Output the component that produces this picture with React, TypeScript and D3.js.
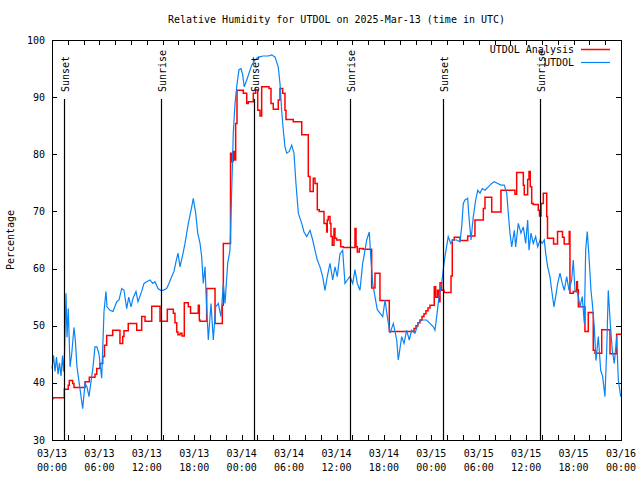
import React from "react";
import * as d3 from "d3";

// hours since 2025-03-13 00:00 UTC, relative humidity (%)
const utdolObs: [number, number][] = [
  [0, 42.5], [0.19, 44.8], [0.38, 42], [0.57, 44.5], [0.76, 41.5], [0.95, 43.5], [1.14, 41.2], [1.33, 44.8],
  [1.46, 42], [1.58, 45], [1.77, 55.7], [1.9, 48], [2.06, 53], [2.28, 42.8], [2.49, 45], [2.78, 49.7],
  [2.95, 47.5], [3.16, 42.8], [3.54, 39], [3.88, 35.5], [4.18, 39.9], [4.43, 39.3], [4.68, 37.6], [5.02, 41.1],
  [5.19, 42.8], [5.44, 46.3], [5.69, 46.3], [5.95, 45], [6.29, 40.8], [6.58, 52.5], [6.83, 56], [6.96, 53.3],
  [7.34, 52.7], [7.72, 52.5], [8.19, 54.2], [8.48, 54.5], [8.82, 56.5], [9.11, 56.2], [9.45, 53], [9.71, 55],
  [10.0, 53.3], [10.25, 54.8], [10.63, 56], [10.88, 54.2], [11.35, 56], [11.64, 57.4], [11.98, 57.7], [12.4, 58],
  [12.74, 57.4], [13.03, 57.7], [13.41, 56.5], [13.75, 56.2], [14.05, 56.2], [14.51, 56.5], [14.8, 57.4], [15.15, 58.6],
  [15.44, 59.5], [15.69, 61.2], [15.94, 62.7], [16.2, 60.3], [16.54, 62.4], [16.83, 64.4], [17.25, 67.9], [17.68, 70.8],
  [17.88, 72.3], [18.18, 69.7], [18.44, 66.2], [18.73, 64.4], [18.94, 62.1], [19.14, 57.4], [19.36, 60.3], [19.57, 53.3],
  [19.78, 47.5], [20.12, 53.9], [20.41, 47.5], [20.71, 53.3], [21.04, 53.9], [21.38, 51.6], [21.68, 57.4], [21.89, 53.9],
  [22.23, 60.9], [22.52, 63.2], [22.74, 73.7], [22.94, 83.7], [23.16, 88.9], [23.37, 91.8], [23.66, 94.8], [23.92, 95],
  [24.13, 93.9], [24.33, 91.8], [24.64, 93], [24.93, 94.2], [25.27, 95.6], [25.69, 96.5], [26.1, 97], [26.74, 97.2],
  [27.37, 97.2], [27.8, 97.4], [28.22, 97], [28.63, 95.3], [28.85, 92.4], [29.06, 87.7], [29.27, 84.2], [29.48, 81.3],
  [29.7, 80.2], [30.03, 80.5], [30.33, 81.6], [30.62, 80.2], [30.87, 74.9], [31.17, 69.7], [31.6, 67.9], [31.89, 66.4],
  [32.23, 65.6], [32.65, 66.7], [32.99, 65], [33.28, 63.2], [33.57, 61.5], [33.91, 60.3], [34.25, 58.6], [34.54, 56.2],
  [34.83, 58.6], [35.18, 60.9], [35.52, 58], [35.81, 60.3], [36.1, 58.6], [36.44, 62.6], [36.78, 63.2], [37.07, 57.4],
  [37.37, 58], [37.71, 58.6], [38.05, 57.4], [38.34, 59.8], [38.63, 57.4], [38.97, 56.2], [39.31, 60.9], [39.61, 63.2],
  [39.82, 65], [40.15, 66.4], [40.33, 62.1], [40.58, 57.4], [40.87, 55.1], [41.16, 52.8], [41.5, 52.2], [41.85, 51.6],
  [42.14, 54.5], [42.43, 51.6], [42.77, 48.7], [43.19, 50.4], [43.62, 47.5], [43.82, 44], [44.25, 48.1], [44.54, 46.9],
  [44.88, 49.2], [45.21, 47.5], [45.51, 49.2], [45.93, 48.7], [46.35, 50.4], [46.78, 51], [47.41, 51], [47.83, 50.4],
  [48.25, 49.8], [48.46, 49.2], [48.68, 51.6], [48.97, 55.1], [49.31, 57.4], [49.6, 60.9], [49.85, 63.2], [50.14, 65.6],
  [50.45, 64.4], [50.78, 65], [51.21, 65], [51.63, 64.7], [51.84, 67.3], [52.04, 71.4], [52.26, 72], [52.6, 72.3],
  [52.76, 69.1], [53.02, 65], [53.31, 69.1], [53.61, 72], [53.87, 73.7], [54.16, 73.2], [54.45, 74], [54.79, 73.7],
  [55.21, 74.3], [55.64, 74.9], [55.97, 75.2], [56.4, 74.9], [56.81, 74.6], [57.23, 74.6], [57.54, 73.2], [57.74, 69.7],
  [57.95, 66.2], [58.17, 63.8], [58.5, 66.7], [58.67, 63.8], [59.0, 67.9], [59.34, 66.2], [59.64, 67.3], [59.94, 64.4],
  [60.19, 68.5], [60.36, 63.2], [60.61, 66.2], [60.9, 64.4], [61.2, 65.6], [61.46, 63.8], [61.75, 65], [62.04, 64.4],
  [62.29, 65], [62.47, 62.7], [62.72, 60.3], [63.01, 58.6], [63.23, 56.2], [63.52, 53.3], [63.73, 55.1], [63.99, 57.4],
  [64.28, 59.2], [64.57, 57.4], [64.82, 56.2], [65.13, 58.6], [65.42, 56.2], [65.76, 58], [65.96, 61.5], [66.18, 56.2],
  [66.52, 55.7], [66.81, 53.3], [67.1, 55.1], [67.36, 50.4], [67.53, 63.2], [67.73, 66.5], [67.95, 62.1], [68.2, 56.2],
  [68.37, 53.9], [68.62, 49.8], [68.83, 43.9], [69.13, 48.1], [69.43, 42.2], [69.68, 41.1], [69.97, 37.6], [70.19, 45.7],
  [70.39, 56.2], [70.64, 50.4], [70.9, 45.7], [71.15, 43.4], [71.45, 48.1], [71.66, 40.5], [71.96, 37.6],
];

// analysis: step values (value holds from this hour until the next)
const utdolAnalysis: [number, number][] = [
  [0, 37.2], [0.13, 37.4], [1.56, 38.9], [2.06, 39.6], [2.19, 40.4], [2.62, 39.9], [2.78, 39.2], [4.18, 40.2],
  [4.72, 41.0], [5.44, 41.5], [5.66, 42.5], [6.07, 43.4], [6.42, 44.6], [6.64, 46.6], [6.92, 48.3], [7.68, 49.2],
  [8.6, 46.9], [8.95, 48.1], [9.11, 49.1], [9.65, 50.4], [10.72, 49.2], [11.35, 51.6], [11.77, 50.8], [12.62, 53.4],
  [13.67, 50.8], [14.59, 52.9], [15.35, 52.2], [15.56, 50.5], [15.78, 48.9], [15.94, 48.4], [16.2, 48.7], [16.45, 48.2],
  [16.74, 54.0], [17.25, 53.3], [17.53, 52.2], [18.51, 53.6], [18.64, 51.0], [18.73, 50.8], [19.57, 56.5], [20.63, 50.4],
  [21.55, 53.6], [21.68, 64.4], [22.59, 80.2], [22.74, 78.7], [22.9, 80.5], [23.09, 79.0], [23.24, 85.4], [23.41, 91.2],
  [24.21, 90.7], [24.64, 88.9], [24.84, 89.2], [25.47, 90.7], [25.78, 91.3], [26.03, 87.7], [26.32, 86.7], [26.53, 91.8],
  [27.46, 91.5], [27.71, 88.9], [28.0, 87.9], [28.63, 89.5], [28.85, 91.5], [29.19, 90.7], [29.48, 87.7], [29.61, 86.1],
  [30.53, 85.7], [31.6, 83.4], [32.43, 76.1], [32.65, 73.5], [33.06, 75.8], [33.28, 74.9], [33.57, 70.3], [33.82, 70.0],
  [34.42, 67.9], [34.76, 66.4], [34.83, 68.5], [34.96, 69.1], [35.18, 67.9], [35.3, 65.6], [35.47, 64.1], [35.68, 67.0],
  [35.81, 65.3], [36.02, 65.0], [36.53, 63.8], [36.86, 63.7], [38.34, 67.0], [38.47, 63.8], [38.63, 62.9], [38.88, 63.5],
  [39.39, 63.4], [40.45, 56.6], [40.87, 59.2], [41.5, 54.4], [42.68, 49.0], [45.81, 49.5], [46.06, 50.0], [46.31, 50.5],
  [46.56, 51.0], [46.82, 51.6], [47.07, 52.1], [47.32, 52.6], [47.58, 53.1], [47.83, 53.6], [48.37, 56.8], [48.55, 55.0],
  [48.78, 56.2], [48.97, 54.2], [49.1, 57.5], [49.31, 56.2], [49.6, 55.8], [50.49, 58.7], [50.65, 65.0], [50.9, 65.5],
  [51.63, 64.9], [52.6, 65.7], [53.52, 68.5], [54.58, 70.5], [54.79, 72.5], [55.64, 69.9], [56.81, 73.7], [58.58, 73.0],
  [58.8, 76.8], [59.64, 74.6], [59.76, 72.9], [60.19, 75.6], [60.36, 77.0], [60.52, 74.3], [60.7, 71.4], [60.9, 71.2],
  [61.53, 70.2], [61.69, 69.2], [61.88, 71.4], [62.17, 73.2], [62.6, 69.1], [62.7, 65.3], [63.47, 64.3], [63.97, 66.5],
  [64.6, 65.5], [64.81, 64.3], [65.45, 66.5], [65.54, 55.7], [65.96, 56.0], [66.39, 57.7], [66.49, 56.3], [66.6, 53.3],
  [67.44, 49.0], [67.86, 52.3], [68.49, 45.7], [68.71, 45.2], [69.56, 49.3], [70.61, 45.1], [71.45, 48.5], [72, 48.5],
];

const sunHours = [1.56, 13.83, 25.6, 37.75, 49.51, 61.78];
const sunLabels = ["Sunset", "Sunrise", "Sunset", "Sunrise", "Sunset", "Sunrise"];

const yTicks = [30, 40, 50, 60, 70, 80, 90, 100];
const xMajorHours = [0, 6, 12, 18, 24, 30, 36, 42, 48, 54, 60, 66, 72];
const xTickDates = ["03/13", "03/13", "03/13", "03/13", "03/14", "03/14", "03/14", "03/14", "03/15", "03/15", "03/15", "03/15", "03/16"];
const xTickTimes = ["00:00", "06:00", "12:00", "18:00", "00:00", "06:00", "12:00", "18:00", "00:00", "06:00", "12:00", "18:00", "00:00"];

const TITLE = "Relative Humidity for UTDOL on 2025-Mar-13 (time in UTC)";
const Y_LABEL = "Percentage";
const SERIES_NAMES = ["UTDOL Analysis", "UTDOL"];
const RED = "#ff0000";
const BLUE = "#0a84f5";

export default function App() {
  const W = 640, H = 480;
  const L = 52, R = 621, T = 40, B = 440;
  const x = d3.scaleLinear().domain([0, 72]).range([L, R]);
  const y = d3.scaleLinear().domain([30, 100]).range([B, T]);
  const font = "'DejaVu Sans Mono', monospace";

  const redLine = d3.line<[number, number]>()
    .x(d => x(d[0])).y(d => y(d[1])).curve(d3.curveStepAfter)(utdolAnalysis) || "";
  const blueLine = d3.line<[number, number]>()
    .x(d => x(d[0])).y(d => y(d[1]))(utdolObs) || "";

  const minorHours = d3.range(0, 73, 2);

  return (
    <svg width={W} height={H} style={{ position: "absolute", left: 0, top: 0, background: "#fff" }}
      fontFamily={font} fontSize={10}>
      <rect x={0} y={0} width={W} height={H} fill="#fff" />
      {/* ticks */}
      {minorHours.map(h => (
        <g key={"t" + h} stroke="#000" strokeWidth={1}>
          <line x1={Math.round(x(h)) + 0.5} x2={Math.round(x(h)) + 0.5} y1={B} y2={B - 5} />
          <line x1={Math.round(x(h)) + 0.5} x2={Math.round(x(h)) + 0.5} y1={T} y2={T + 5} />
        </g>
      ))}
      {yTicks.map(v => (
        <g key={"y" + v}>
          <line x1={L} x2={L + 5} y1={Math.round(y(v)) + 0.5} y2={Math.round(y(v)) + 0.5} stroke="#000" />
          <line x1={R - 5} x2={R} y1={Math.round(y(v)) + 0.5} y2={Math.round(y(v)) + 0.5} stroke="#000" />
          <text x={45} y={y(v)} dy="0.35em" textAnchor="end" fill="#000">{v}</text>
        </g>
      ))}
      {xMajorHours.map((h, i) => (
        <g key={"x" + h}>
          <text x={x(h)} y={457} textAnchor="middle" fill="#000">{xTickDates[i]}</text>
          <text x={x(h)} y={471} textAnchor="middle" fill="#000">{xTickTimes[i]}</text>
        </g>
      ))}
      {/* data */}
      <path d={redLine} fill="none" stroke={RED} strokeWidth={1.5} />
      <path d={blueLine} fill="none" stroke={BLUE} strokeWidth={1.2} />
      {/* sun events */}
      {sunHours.map((h, i) => (
        <g key={"s" + i}>
          <line x1={Math.round(x(h)) + 0.5} x2={Math.round(x(h)) + 0.5} y1={99} y2={B} stroke="#000" strokeWidth={1.2} />
          <text transform={`translate(${x(h)},92) rotate(-90)`} dy="0.45em" fill="#000">{sunLabels[i]}</text>
        </g>
      ))}
      {/* border */}
      <rect x={L + 0.5} y={T + 0.5} width={R - L} height={B - T} fill="none" stroke="#000" strokeWidth={1} />
      {/* legend */}
      <text x={574} y={49.5} dy="0.35em" textAnchor="end" fill="#000">{SERIES_NAMES[0]}</text>
      <line x1={581} x2={610} y1={49.5} y2={49.5} stroke={RED} strokeWidth={1.5} />
      <text x={574} y={62.5} dy="0.35em" textAnchor="end" fill="#000">{SERIES_NAMES[1]}</text>
      <line x1={581} x2={610} y1={62.5} y2={62.5} stroke={BLUE} strokeWidth={1.2} />
      {/* title & y label */}
      <text x={(L + R) / 2} y={23} textAnchor="middle" fill="#000">{TITLE}</text>
      <text transform={`translate(14,240) rotate(-90)`} textAnchor="middle" fill="#000">{Y_LABEL}</text>
    </svg>
  );
}
